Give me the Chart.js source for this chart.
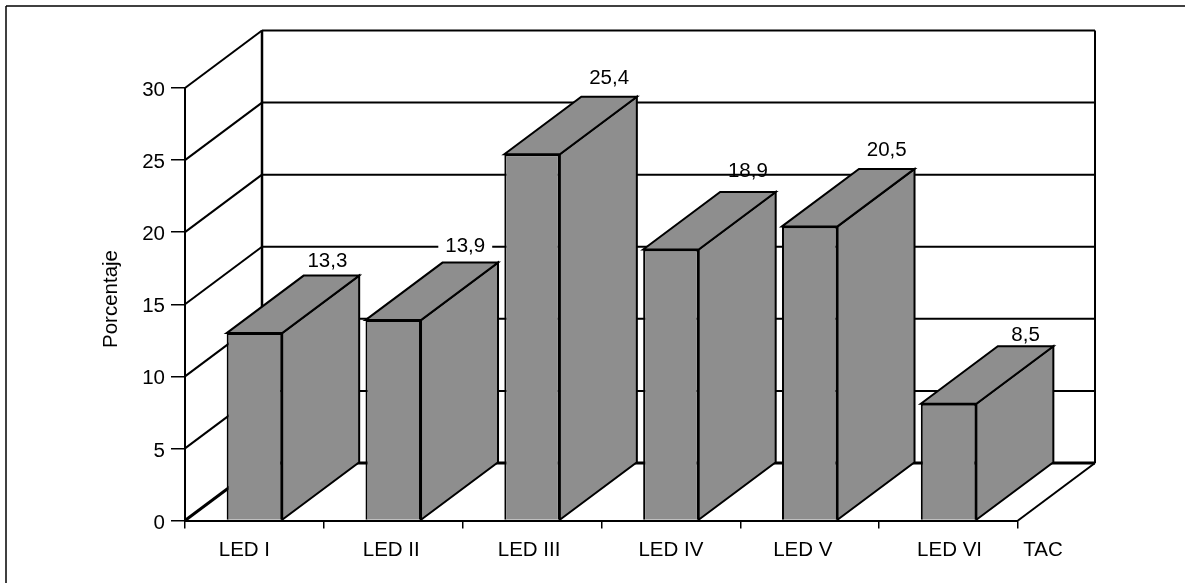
<!DOCTYPE html>
<html>
<head>
<meta charset="utf-8">
<title>Porcentaje por LED</title>
<script src="https://cdn.jsdelivr.net/npm/chart.js@4/dist/chart.umd.min.js"></script>
<style>
  body { margin: 0; background: #fff; }
  canvas { display: block; }
</style>
</head>
<body>
<canvas id="grafica" width="1185" height="583"></canvas>
<script>
const categorias = ['LED I', 'LED II', 'LED III', 'LED IV', 'LED V', 'LED VI'];
const nombreSerie = 'TAC';
// bar heights as drawn in the picture; the printed labels differ a little
const alturas = [13.0, 13.9, 25.4, 18.8, 20.4, 8.1];
const etiquetas = ['13,3', '13,9', '25,4', '18,9', '20,5', '8,5'];
const ticksY = [0, 5, 10, 15, 20, 25, 30];
const tituloY = 'Porcentaje';

const FUENTE = '"Liberation Sans", Arial, sans-serif';
const TAM = 20.5;
const GRIS = '#8e8e8e';
const DX = 77;   // depth of the 3d box
const DY = -57.5;

// small manual fixes for label placement
const ajusteEtiqueta = [[-4, -14], [-5, -16], [0, -18], [0, -21], [0, -19], [0, -11]];
const ajusteCategoria = [-10, -2, -3, 0, -7, 1];

function linea(ctx, x1, y1, x2, y2, ancho) {
  ctx.lineWidth = ancho || 2;
  ctx.beginPath();
  ctx.moveTo(x1, y1);
  ctx.lineTo(x2, y2);
  ctx.stroke();
}

function poligono(ctx, puntos) {
  ctx.beginPath();
  puntos.forEach((p, i) => i ? ctx.lineTo(p[0], p[1]) : ctx.moveTo(p[0], p[1]));
  ctx.closePath();
  ctx.fill();
  ctx.stroke();
}

const caja3d = {
  id: 'caja3d',
  beforeDatasetsDraw(chart) {
    const ctx = chart.ctx;
    const y = chart.scales.y;
    const a = chart.chartArea;
    ctx.save();
    ctx.strokeStyle = '#000';
    ctx.lineJoin = 'miter';

    // marco exterior (solo arriba e izquierda, llega al borde de la imagen)
    linea(ctx, 6, 6, 1185, 6, 1.5);
    linea(ctx, 6, 6, 6, 583, 1.5);

    // paredes y suelo
    ticksY.forEach(v => {
      const py = y.getPixelForValue(v);
      linea(ctx, a.left, py, a.left + DX, py + DY, v === 0 ? 3 : 2);
      linea(ctx, a.left + DX, py + DY, a.right + DX, py + DY, v === 0 ? 3 : 2);
    });
    linea(ctx, a.left + DX, y.getPixelForValue(30) + DY, a.left + DX, y.getPixelForValue(0) + DY, 2.5);
    linea(ctx, a.right + DX, y.getPixelForValue(30) + DY, a.right + DX, y.getPixelForValue(0) + DY, 2);
    linea(ctx, a.right, y.getPixelForValue(0), a.right + DX, y.getPixelForValue(0) + DY, 2);

    // caras lateral y superior de cada barra
    ctx.fillStyle = GRIS;
    ctx.lineWidth = 2;
    chart.getDatasetMeta(0).data.forEach(b => {
      const izq = b.x - b.width / 2;
      const der = b.x + b.width / 2;
      poligono(ctx, [[der, b.base], [der + DX, b.base + DY], [der + DX, b.y + DY], [der, b.y]]);
      poligono(ctx, [[izq, b.y], [izq + DX, b.y + DY], [der + DX, b.y + DY], [der, b.y]]);
    });
    ctx.restore();
  },
  afterDatasetsDraw(chart) {
    const ctx = chart.ctx;
    const x = chart.scales.x;
    const y = chart.scales.y;
    ctx.save();
    ctx.font = TAM + 'px ' + FUENTE;
    ctx.fillStyle = '#000';
    ctx.textAlign = 'center';
    ctx.textBaseline = 'middle';

    chart.getDatasetMeta(0).data.forEach((b, i) => {
      const px = b.x + DX + ajusteEtiqueta[i][0];
      const py = b.y + DY + ajusteEtiqueta[i][1];
      if (i === 1) {
        // in the original this label blanks out the grid line behind it
        const w = ctx.measureText(etiquetas[i]).width + 14;
        ctx.fillStyle = '#fff';
        ctx.fillRect(px - w / 2, py - 9, w, 18);
        ctx.fillStyle = '#000';
      }
      ctx.fillText(etiquetas[i], px, py);
    });

    const yTexto = y.getPixelForValue(0) + 30;
    categorias.forEach((c, i) => {
      ctx.fillText(c, x.getPixelForValue(i) + ajusteCategoria[i], yTexto);
    });
    ctx.fillText(nombreSerie, chart.chartArea.right + 25, yTexto);

    // axis title sits a bit above the scale centre, so it is placed by hand
    ctx.translate(111, 299);
    ctx.rotate(-Math.PI / 2);
    ctx.fillText(tituloY, 0, 0);
    ctx.restore();
  }
};

new Chart(document.getElementById('grafica'), {
  type: 'bar',
  data: {
    labels: categorias,
    datasets: [{
      label: nombreSerie,
      data: alturas,
      backgroundColor: GRIS,
      borderColor: '#000',
      borderWidth: 2,
      borderSkipped: 'bottom',
      barPercentage: 0.4,
      categoryPercentage: 1
    }]
  },
  options: {
    responsive: false,
    animation: false,
    layout: { padding: { left: 0, right: 167, top: 88, bottom: 0 } },
    plugins: { legend: { display: false }, tooltip: { enabled: false } },
    scales: {
      x: {
        afterFit(s) { s.height = 62.5; },
        border: { color: '#000', width: 2 },
        grid: { drawOnChartArea: false, color: '#000', lineWidth: 1.5, tickLength: 8 },
        ticks: { display: false }
      },
      y: {
        min: 0,
        max: 30,
        afterFit(s) { s.width = 185; },
        border: { color: '#000', width: 2 },
        grid: { drawOnChartArea: false, color: '#000', lineWidth: 1.5, tickLength: 14 },
        ticks: {
          stepSize: 5,
          padding: 6,
          labelOffset: 2.5,
          color: '#000',
          font: { family: FUENTE, size: TAM }
        }
      }
    }
  },
  plugins: [caja3d]
});
</script>
</body>
</html>
